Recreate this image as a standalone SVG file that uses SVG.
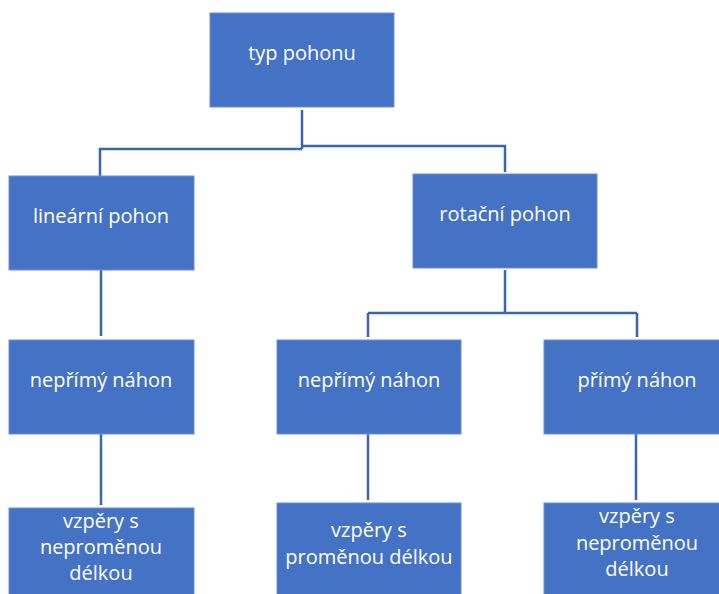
<svg xmlns="http://www.w3.org/2000/svg" width="719" height="594" viewBox="0 0 719 594">
<style>
.box{fill:#4472C4;stroke:#6A8FD6;stroke-width:1}
.t{font-family:"Open Sans","Noto Sans",sans-serif;font-size:20px;fill:#FFFFFF;text-anchor:middle}
.c{fill:none;stroke:#3A65B0;stroke-width:2.5}
</style>
<rect width="719" height="594" fill="#FFFFFF"/>
<g id="connectors">
<path class="c" d="M302,110 V149 M100,176 V149 H302 M302,146 H505 V172"/>
<path class="c" d="M101,270 V336"/>
<path class="c" d="M505,270 V313 M368,313 H637 M368,313 V337 M637,313 V337"/>
<path class="c" d="M101,434 V505"/>
<path class="c" d="M368,434 V500"/>
<path class="c" d="M636,434 V500"/>
</g>
<g id="typ-pohonu"><rect class="box" x="210" y="13" width="184" height="94"/><text class="t" x="302" y="60">typ pohonu</text></g>
<g id="linearni-pohon"><rect class="box" x="9" y="176" width="185" height="94"/><text class="t" x="101" y="223">lineární pohon</text></g>
<g id="rotacni-pohon"><rect class="box" x="413" y="174" width="184" height="94"/><text class="t" x="505" y="221">rotační pohon</text></g>
<g id="neprimy-nahon-1"><rect class="box" x="9" y="340" width="185" height="94"/><text class="t" x="101" y="387">nepřímý náhon</text></g>
<g id="neprimy-nahon-2"><rect class="box" x="277" y="340" width="184" height="94"/><text class="t" x="369" y="387">nepřímý náhon</text></g>
<g id="primy-nahon"><rect class="box" x="544" y="340" width="176" height="94"/><text class="t" x="637" y="387">přímý náhon</text></g>
<g id="vzpery-1"><rect class="box" x="9" y="508" width="185" height="90"/><text class="t" x="101" y="528">vzpěry s</text><text class="t" x="101" y="554">neproměnou</text><text class="t" x="101" y="580">délkou</text></g>
<g id="vzpery-2"><rect class="box" x="277" y="503" width="184" height="95"/><text class="t" x="369" y="537">vzpěry s</text><text class="t" x="369" y="564">proměnou délkou</text></g>
<g id="vzpery-3"><rect class="box" x="544" y="503" width="176" height="95"/><text class="t" x="637" y="523">vzpěry s</text><text class="t" x="637" y="550">neproměnou</text><text class="t" x="637" y="576">délkou</text></g>
</svg>
